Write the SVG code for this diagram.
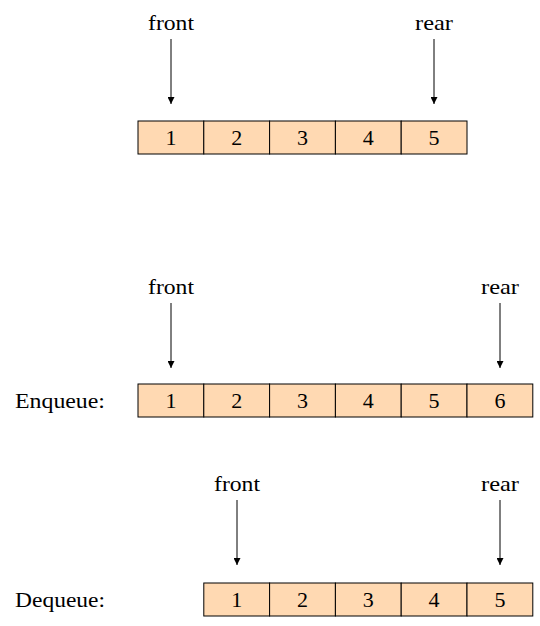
<svg xmlns="http://www.w3.org/2000/svg" width="540" height="626" viewBox="0 0 540 626">
<defs>
<marker id="ah" viewBox="0 0 10 10" refX="10" refY="5" markerWidth="7" markerHeight="7" markerUnits="userSpaceOnUse" orient="auto"><path d="M0,0 L10,5 L0,10 Z" fill="#000"/></marker>
<style>
.c{fill:#FFD9B2;stroke:#000;stroke-width:1}
.t{font-family:"Liberation Serif","DejaVu Serif",serif;font-size:22px;fill:#000}
.n{text-anchor:middle}
.a{stroke:#000;stroke-width:1;fill:none;marker-end:url(#ah)}
</style>
</defs>
<rect width="540" height="626" fill="#fff"/>
<g id="row1">
<rect class="c" x="138" y="121" width="65.8" height="33"/><rect class="c" x="203.8" y="121" width="65.8" height="33"/><rect class="c" x="269.6" y="121" width="65.8" height="33"/><rect class="c" x="335.4" y="121" width="65.8" height="33"/><rect class="c" x="401.2" y="121" width="65.8" height="33"/>
<text class="t n" x="171" y="145">1</text><text class="t n" x="236.7" y="145">2</text><text class="t n" x="302.5" y="145">3</text><text class="t n" x="368.3" y="145">4</text><text class="t n" x="434.1" y="145">5</text>
</g>
<g id="labels1">
<text class="t n" x="171" y="30" textLength="46" lengthAdjust="spacingAndGlyphs">front</text><text class="t n" x="434" y="30" textLength="38" lengthAdjust="spacingAndGlyphs">rear</text>
</g>
<g id="row2">
<text class="t" x="15" y="408" textLength="90" lengthAdjust="spacingAndGlyphs">Enqueue:</text>
<rect class="c" x="138" y="384" width="65.8" height="33"/><rect class="c" x="203.8" y="384" width="65.8" height="33"/><rect class="c" x="269.6" y="384" width="65.8" height="33"/><rect class="c" x="335.4" y="384" width="65.8" height="33"/><rect class="c" x="401.2" y="384" width="65.8" height="33"/><rect class="c" x="467" y="384" width="65.8" height="33"/>
<text class="t n" x="171" y="408">1</text><text class="t n" x="236.7" y="408">2</text><text class="t n" x="302.5" y="408">3</text><text class="t n" x="368.3" y="408">4</text><text class="t n" x="434.1" y="408">5</text><text class="t n" x="499.9" y="408">6</text>
</g>
<g id="labels2">
<text class="t n" x="171" y="294" textLength="46" lengthAdjust="spacingAndGlyphs">front</text><text class="t n" x="500" y="294" textLength="38" lengthAdjust="spacingAndGlyphs">rear</text>
</g>
<g id="row3">
<text class="t" x="15" y="607" textLength="90" lengthAdjust="spacingAndGlyphs">Dequeue:</text>
<rect class="c" x="203.8" y="583" width="65.8" height="33"/><rect class="c" x="269.6" y="583" width="65.8" height="33"/><rect class="c" x="335.4" y="583" width="65.8" height="33"/><rect class="c" x="401.2" y="583" width="65.8" height="33"/><rect class="c" x="467" y="583" width="65.8" height="33"/>
<text class="t n" x="236.7" y="607">1</text><text class="t n" x="302.5" y="607">2</text><text class="t n" x="368.3" y="607">3</text><text class="t n" x="434.1" y="607">4</text><text class="t n" x="499.9" y="607">5</text>
</g>
<g id="labels3">
<text class="t n" x="237" y="491" textLength="46" lengthAdjust="spacingAndGlyphs">front</text><text class="t n" x="500" y="491" textLength="38" lengthAdjust="spacingAndGlyphs">rear</text>
</g>
<g id="connectors">
<line class="a" x1="171" y1="39" x2="171" y2="104"/>
<line class="a" x1="434" y1="39" x2="434" y2="104"/>
<line class="a" x1="171" y1="303" x2="171" y2="368"/>
<line class="a" x1="500" y1="303" x2="500" y2="368"/>
<line class="a" x1="237" y1="500" x2="237" y2="565"/>
<line class="a" x1="500" y1="500" x2="500" y2="565"/>
</g>
</svg>
